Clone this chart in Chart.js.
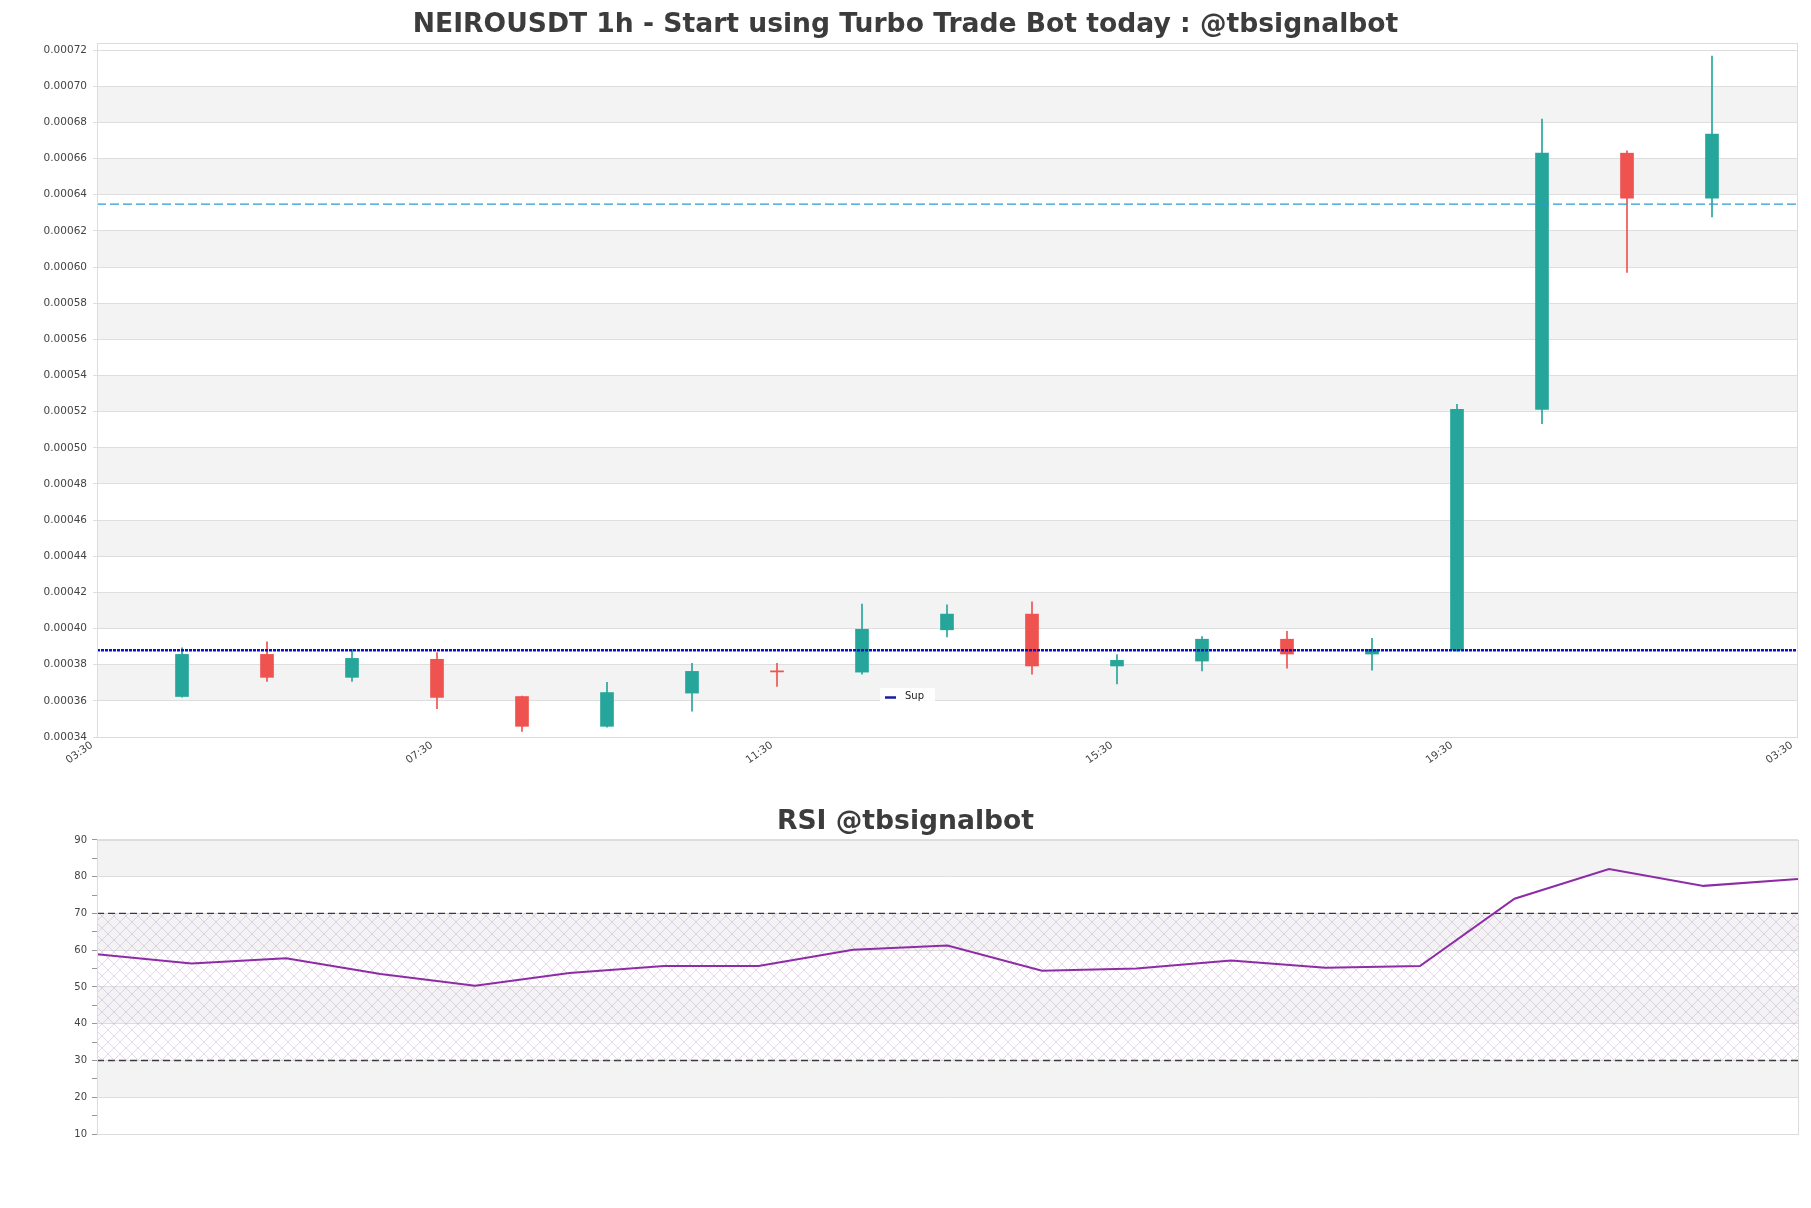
<!DOCTYPE html>
<html>
<head>
<meta charset="utf-8">
<script src="https://cdn.jsdelivr.net/npm/chart.js@4.4.1/dist/chart.umd.min.js"></script>
<style>
  body { margin: 0; background: #fff; }
  #top { position: absolute; left: 0; top: 0; width: 1811px; height: 780px; }
  #bottom { position: absolute; left: 0; top: 790px; width: 1811px; height: 418px; }
</style>
</head>
<body>
<div id="top"><canvas id="price"></canvas></div>
<div id="bottom"><canvas id="rsi"></canvas></div>
<script>
// x axis labels (one every 4 candles)
const timeLabels = ['03:30', '07:30', '11:30', '15:30', '19:30', '03:30']

// candles, hourly
const candleX = [1, 2, 3, 4, 5, 6, 7, 8, 9, 10, 11, 12, 13, 14, 15, 16, 17, 18, 19]
const opens  = [0.0003624, 0.0003857, 0.0003730, 0.0003830, 0.0003624, 0.0003459, 0.0003643, 0.0003766, 0.0003759, 0.0003993,
                0.0004080, 0.0003793, 0.0003820, 0.0003941, 0.0003859, 0.0003880, 0.0005213, 0.0006630, 0.0006381]
const highs  = [0.0003894, 0.0003926, 0.0003885, 0.0003867, 0.0003626, 0.0003702, 0.0003807, 0.0003807, 0.0004135, 0.0004131,
                0.0004148, 0.0003856, 0.0003956, 0.0003985, 0.0003946, 0.0005241, 0.0006819, 0.0006643, 0.0007167]
const lows   = [0.0003620, 0.0003707, 0.0003707, 0.0003557, 0.0003431, 0.0003454, 0.0003543, 0.0003680, 0.0003748, 0.0003954,
                0.0003748, 0.0003693, 0.0003765, 0.0003781, 0.0003770, 0.0003875, 0.0005133, 0.0005970, 0.0006278]
const closes = [0.0003857, 0.0003730, 0.0003835, 0.0003619, 0.0003459, 0.0003646, 0.0003763, 0.0003760, 0.0003996, 0.0004080,
                0.0003793, 0.0003824, 0.0003941, 0.0003859, 0.0003885, 0.0005213, 0.0006630, 0.0006381, 0.0006735]

// levels
const supLevel = 0.000388
const resLevel = 0.0006348

// RSI
const rsiX = [0, 1, 2, 3, 4, 5, 6, 7, 8, 9, 10, 11, 12, 13, 14, 15, 16, 17, 18]
const rsiValues = [58.9, 56.4, 57.8, 53.5, 50.3, 53.8, 55.7, 55.7, 60.1, 61.3,
                   54.4, 55.0, 57.2, 55.2, 55.7, 74.0, 82.1, 77.5, 79.4]
const rsiHigh = 70
const rsiLow = 30

const UP = '#26a69a'
const DOWN = '#ef5350'

Chart.defaults.font.family = "'DejaVu Sans', sans-serif"
Chart.defaults.animation = false
Chart.defaults.events = []

// alternating grey bands + frame round the plot
const bandsPlugin = {
  id: 'bands',
  beforeDraw(chart, args, opts) {
    const ctx = chart.ctx, a = chart.chartArea, y = chart.scales.y
    ctx.save()
    ctx.fillStyle = opts.color
    for (let i = 0; i < opts.count; i++) {
      if (i % 2 === 1) {
        const y1 = y.getPixelForValue(opts.from + i * opts.step)
        const y2 = y.getPixelForValue(opts.from + (i + 1) * opts.step)
        ctx.fillRect(a.left, y2, a.width, y1 - y2)
      }
    }
    ctx.restore()
  },
  afterDraw(chart) {
    const ctx = chart.ctx, a = chart.chartArea
    ctx.save()
    ctx.strokeStyle = '#dcdcdc'
    ctx.lineWidth = 1
    ctx.strokeRect(Math.round(a.left) + 0.5, Math.round(a.top) + 0.5, Math.round(a.width), Math.round(a.height))
    ctx.restore()
  }
}

// small legend box for the support line
const supLegend = {
  id: 'supLegend',
  afterDatasetsDraw(chart) {
    const ctx = chart.ctx, a = chart.chartArea
    const ds = chart.data.datasets[0]
    const x = a.left + a.width * 0.4606, y = a.bottom - 49
    ctx.save()
    ctx.fillStyle = 'rgba(255,255,255,0.9)'
    ctx.fillRect(x, y, 55, 16)
    ctx.strokeStyle = '#1a1aa6'
    ctx.lineWidth = 2.5
    ctx.beginPath()
    ctx.moveTo(x + 5, y + 9.5)
    ctx.lineTo(x + 16, y + 9.5)
    ctx.stroke()
    ctx.fillStyle = '#222'
    ctx.font = "10px 'DejaVu Sans'"
    ctx.textBaseline = 'middle'
    ctx.fillText(ds.label, x + 25, y + 8.5)
    ctx.restore()
  }
}

function hatchPattern() {
  const c = document.createElement('canvas')
  c.width = 12; c.height = 12
  const g = c.getContext('2d')
  g.strokeStyle = 'rgba(190,150,205,0.55)'
  g.lineWidth = 0.7
  g.beginPath()
  g.moveTo(0, 0); g.lineTo(12, 12)
  g.moveTo(12, 0); g.lineTo(0, 12)
  g.stroke()
  return g.createPattern(c, 'repeat')
}

// empty axis on the right, only keeps a margin so the title stays centred on the page
var rightMargin = (w) => ({
  position: 'right', display: true,
  grid: {display: false}, border: {display: false}, ticks: {display: false},
  afterFit: (s) => { s.width = w }
})

var candleColor = (ctx) => closes[ctx.dataIndex] >= opens[ctx.dataIndex] ? UP : DOWN

var priceData = {
  datasets: [{
    type: 'line',
    label: 'Sup',
    data: [{x: 0, y: supLevel}, {x: 20, y: supLevel}],
    borderColor: '#1010c8',
    borderWidth: 2.5,
    borderDash: [3, 1],
    pointRadius: 0
  }, {
    type: 'line',
    label: 'Res',
    data: [{x: 0, y: resLevel}, {x: 20, y: resLevel}],
    borderColor: '#2a9ad8',
    borderWidth: 1.3,
    borderDash: [9, 4],
    pointRadius: 0
  }, {
    label: 'body',
    data: candleX.map((x, i) => ({x: x, y: [opens[i], closes[i]]})),
    backgroundColor: candleColor,
    barThickness: 13,
    grouped: false
  }, {
    label: 'wick',
    data: candleX.map((x, i) => ({x: x, y: [lows[i], highs[i]]})),
    backgroundColor: candleColor,
    barThickness: 1,
    grouped: false
  }]
}

var priceOptions = {
  responsive: true,
  maintainAspectRatio: false,
  layout: {padding: {left: 0, right: 0, top: 0, bottom: 3}},
  scales: {
    x: {
      type: 'linear', min: 0, max: 20, offset: false,
      grid: {display: false},
      border: {display: false},
      ticks: {
        stepSize: 4, autoSkip: false, minRotation: 35, maxRotation: 35,
        padding: -6, labelOffset: -5,
        font: {size: 10.5}, color: '#444',
        callback: (v, i) => timeLabels[i]
      },
      afterFit: (s) => { s.height = 40 }
    },
    y: {
      min: 0.00034, max: 0.000724,
      grid: {color: '#dedede', tickLength: 4},
      border: {display: false},
      ticks: {
        stepSize: 0.00002, includeBounds: false, padding: 6,
        font: {size: 10.5}, color: '#444',
        callback: (v) => v.toFixed(5)
      },
      afterFit: (s) => { s.width = 97 }
    },
    yr: rightMargin(14)
  },
  plugins: {
    legend: {display: false},
    tooltip: {enabled: false},
    title: {
      display: true,
      text: 'NEIROUSDT 1h - Start using Turbo Trade Bot today : @tbsignalbot',
      font: {size: 26.6, weight: 'bold'},
      color: '#3c3c3c',
      padding: {top: 9, bottom: 2}
    },
    bands: {color: '#f3f3f3', from: 0.00034, step: 0.00002, count: 19}
  }
}

new Chart(document.getElementById('price'), {
  type: 'bar',
  data: priceData,
  options: priceOptions,
  plugins: [bandsPlugin, supLegend]
})

var rsiData = {
  datasets: [{
    label: 'RSI',
    data: rsiX.map((x, i) => ({x: x, y: rsiValues[i]})),
    borderColor: '#8e2ca6',
    borderWidth: 2,
    pointRadius: 0,
    tension: 0
  }, {
    label: 'high',
    data: [{x: 0, y: rsiHigh}, {x: 18, y: rsiHigh}],
    borderColor: '#3a3a3a',
    borderWidth: 1.3,
    borderDash: [7, 4],
    pointRadius: 0,
    fill: '+1',
    backgroundColor: hatchPattern()
  }, {
    label: 'low',
    data: [{x: 0, y: rsiLow}, {x: 18, y: rsiLow}],
    borderColor: '#3a3a3a',
    borderWidth: 1.3,
    borderDash: [7, 4],
    pointRadius: 0
  }]
}

var rsiOptions = {
  responsive: true,
  maintainAspectRatio: false,
  layout: {padding: {left: 0, right: 0, top: 0, bottom: 74}},
  scales: {
    x: {type: 'linear', min: 0, max: 18, display: false},
    y: {
      min: 10, max: 90,
      grid: {
        color: (c) => c.tick.value % 10 === 0 ? '#dedede' : 'rgba(0,0,0,0)',
        tickColor: '#999',
        tickLength: 5
      },
      border: {display: false},
      ticks: {
        stepSize: 5, padding: 5,
        font: {size: 10}, color: '#444',
        callback: (v) => v % 10 === 0 ? v : ''
      },
      afterFit: (s) => { s.width = 97 }
    },
    yr: rightMargin(13)
  },
  plugins: {
    legend: {display: false},
    tooltip: {enabled: false},
    title: {
      display: true,
      text: 'RSI @tbsignalbot',
      font: {size: 26.6, weight: 'bold'},
      color: '#3c3c3c',
      padding: {top: 16.5, bottom: 1.5}
    },
    bands: {color: '#f3f3f3', from: 10, step: 10, count: 8}
  }
}

new Chart(document.getElementById('rsi'), {
  type: 'line',
  data: rsiData,
  options: rsiOptions,
  plugins: [bandsPlugin]
})
</script>
</body>
</html>
